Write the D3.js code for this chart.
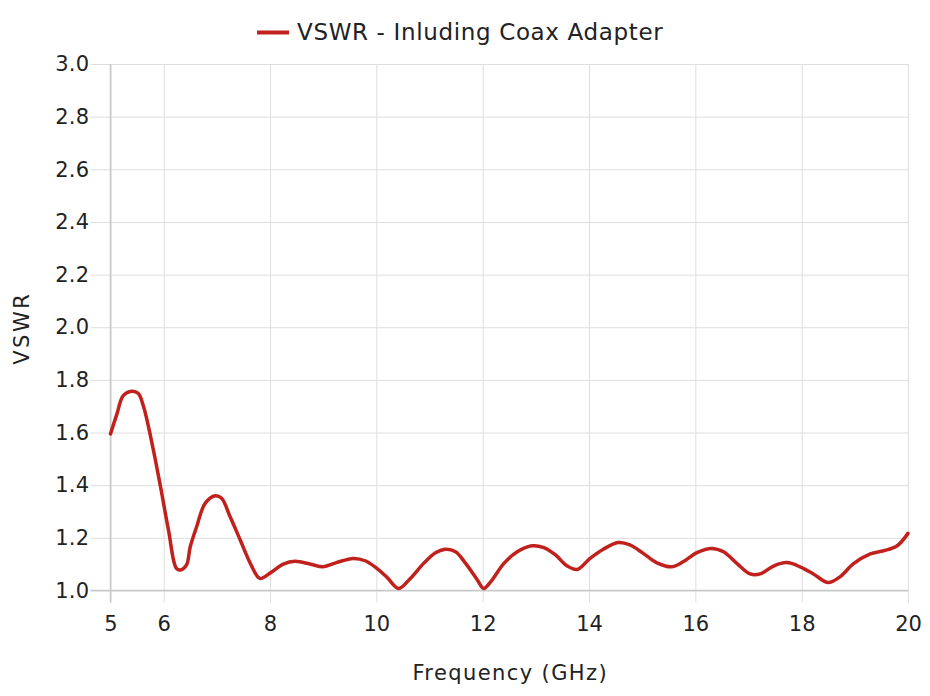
<!DOCTYPE html>
<html>
<head>
<meta charset="utf-8">
<script src="https://cdn.jsdelivr.net/npm/d3@7"></script>
<style>
  html, body { margin: 0; padding: 0; background: #fff; }
  svg { display: block; }
  text { font-family: "DejaVu Sans", sans-serif; fill: #222; }
</style>
</head>
<body>
<div id="chart"></div>
<script>
const seriesName = "VSWR - Inluding Coax Adapter";
const xTicks = [5, 6, 8, 10, 12, 14, 16, 18, 20];
const yTicks = [1.0, 1.2, 1.4, 1.6, 1.8, 2.0, 2.2, 2.4, 2.6, 2.8, 3.0];
const frequencies = [5.0, 5.12, 5.24, 5.40, 5.52, 5.62, 5.78, 5.94, 6.09, 6.24, 6.32, 6.43, 6.50, 6.62, 6.78, 6.97, 7.09, 7.25, 7.44, 7.63, 7.81, 8.0, 8.25, 8.47, 8.75, 9.0, 9.25, 9.57, 9.79, 10.01, 10.20, 10.42, 10.64, 10.89, 11.12, 11.30, 11.49, 11.68, 11.90, 12.02, 12.15, 12.40, 12.65, 12.93, 13.15, 13.37, 13.59, 13.78, 14.02, 14.27, 14.55, 14.77, 15.02, 15.27, 15.55, 15.77, 16.03, 16.31, 16.53, 16.78, 17.03, 17.22, 17.47, 17.72, 17.97, 18.22, 18.50, 18.72, 18.97, 19.29, 19.54, 19.79, 20.0];
const vswr = [1.595, 1.67, 1.74, 1.757, 1.749, 1.70, 1.56, 1.395, 1.23, 1.084, 1.078, 1.097, 1.166, 1.242, 1.331, 1.360, 1.350, 1.280, 1.192, 1.103, 1.046, 1.066, 1.100, 1.111, 1.101, 1.090, 1.106, 1.122, 1.113, 1.084, 1.050, 1.008, 1.046, 1.103, 1.144, 1.157, 1.147, 1.103, 1.040, 1.008, 1.033, 1.103, 1.147, 1.170, 1.163, 1.135, 1.093, 1.080, 1.122, 1.157, 1.182, 1.173, 1.141, 1.106, 1.090, 1.109, 1.144, 1.160, 1.147, 1.103, 1.063, 1.063, 1.093, 1.106, 1.090, 1.063, 1.030, 1.052, 1.101, 1.139, 1.151, 1.169, 1.217];

const W = 930, H = 696;
const margin = { left: 110.5, right: 22, top: 64, bottom: 105.5 };
const iw = W - margin.left - margin.right;
const ih = H - margin.top - margin.bottom;

const svg = d3.select("#chart").append("svg").attr("width", W).attr("height", H);
const g = svg.append("g").attr("transform", `translate(${margin.left},${margin.top})`);

const x = d3.scaleLinear().domain([5, 20]).range([0, iw]);
const y = d3.scaleLinear().domain([1.0, 3.0]).range([ih, 0]);

// horizontal grid + left ticks
const yAxis = g.append("g").call(
  d3.axisLeft(y).tickValues(yTicks).tickSize(-iw).tickFormat(d3.format(".1f")).tickPadding(4)
);
yAxis.select(".domain").remove();
yAxis.selectAll(".tick line").attr("stroke", "#dedede").attr("stroke-width", 1).attr("x1", -20);
yAxis.selectAll(".tick text").attr("x", -21).style("font-size", "21px").style("letter-spacing", "0.3px").attr("fill", "#222");

// vertical grid + bottom ticks
const xAxis = g.append("g").attr("transform", `translate(0,${ih})`).call(
  d3.axisBottom(x).tickValues(xTicks).tickSize(-ih).tickFormat(d3.format("d"))
);
xAxis.select(".domain").remove();
xAxis.selectAll(".tick line").attr("stroke", "#dedede").attr("stroke-width", 1).attr("y1", 12);
xAxis.selectAll(".tick text").attr("y", 26).attr("dy", "0.71em").style("font-size", "21px").attr("fill", "#222");

// axis lines
g.append("line").attr("x1", 0).attr("x2", 0).attr("y1", 0).attr("y2", ih + 12).attr("stroke", "#c8c8c8").attr("stroke-width", 1.5);
g.append("line").attr("x1", -20).attr("x2", iw).attr("y1", ih).attr("y2", ih).attr("stroke", "#c8c8c8").attr("stroke-width", 1.5);

// line
const data = frequencies.map((f, i) => ({ f, v: vswr[i] }));
const line = d3.line().x(d => x(d.f)).y(d => y(d.v)).curve(d3.curveCatmullRom.alpha(0.5));
g.append("path").datum(data).attr("d", line)
  .attr("fill", "none").attr("stroke", "#c0211c").attr("stroke-width", 3.5)
  .attr("stroke-linejoin", "round").attr("stroke-linecap", "round");

// axis titles
svg.append("text").attr("x", margin.left + iw / 2 + 1).attr("y", 680)
  .attr("text-anchor", "middle").style("font-size", "21px").style("letter-spacing", "1.4px").text("Frequency (GHz)");
svg.append("text").attr("transform", `translate(29,${margin.top + ih / 2 + 1}) rotate(-90)`)
  .attr("text-anchor", "middle").style("font-size", "21px").style("letter-spacing", "2.5px").text("VSWR");

// legend
const lg = svg.append("g");
lg.append("line").attr("x1", 257).attr("x2", 289).attr("y1", 32.5).attr("y2", 32.5)
  .attr("stroke", "#c0211c").attr("stroke-width", 4);
lg.append("text").attr("x", 297).attr("y", 40).style("font-size", "23px").style("letter-spacing", "0.65px").text(seriesName);
</script>
</body>
</html>
